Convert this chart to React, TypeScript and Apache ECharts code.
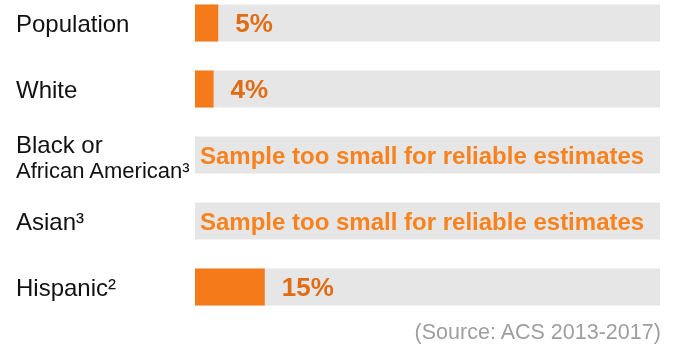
import React, { useEffect, useRef } from "react";
import * as echarts from "echarts";

const categories = ["Population", "White", "Black or\nAfrican American³", "Asian³", "Hispanic²"];
const values: (number | null)[] = [5, 4, null, null, 15];
const suppressedText = "Sample too small for reliable estimates";
const sourceText = "(Source: ACS 2013-2017)";
const axisMax = 100;

export default function App() {
  const ref = useRef<HTMLDivElement>(null);
  useEffect(() => {
    if (!ref.current) return;
    const chart = echarts.init(ref.current, undefined, { renderer: "svg" });
    const bg = categories.map(() => axisMax);
    chart.setOption({
      animation: false,
      grid: { left: 195, right: 13, top: -10, height: 330, outerBoundsMode: "none", containLabel: false },
      xAxis: { type: "value", min: 0, max: axisMax, show: false },
      yAxis: {
        type: "category",
        data: categories,
        inverse: true,
        axisLine: { show: false },
        axisTick: { show: false },
        axisLabel: {
          align: "left",
          margin: 179,
          fontFamily: "Liberation Sans, Arial, sans-serif",
          fontSize: 24,
          color: "#111",
          formatter: (v: string) => {
            if (v.indexOf("\n") >= 0) {
              const [a, b] = v.split("\n");
              return "{a|" + a + "}\n{b|" + b + "}";
            }
            return v;
          },
          rich: {
            a: { fontSize: 24, lineHeight: 30, color: "#111", fontFamily: "Liberation Sans, Arial, sans-serif", padding: [8, 0, 0, 0] },
            b: { fontSize: 22, lineHeight: 30, color: "#111", fontFamily: "Liberation Sans, Arial, sans-serif" },
          },
        },
      },
      series: [
        {
          type: "bar",
          data: bg,
          barWidth: 37,
          barGap: "-100%",
          clip: false,
          itemStyle: { color: "#E6E6E6" },
          silent: true,
          label: {
            show: true,
            position: "insideLeft",
            distance: 5,
            fontFamily: "Liberation Sans, Arial, sans-serif",
            fontWeight: "bold",
            fontSize: 24,
            color: "#F7821E",
            formatter: (p: any) => (values[p.dataIndex] == null ? suppressedText : ""),
          },
          z: 1,
        },
        {
          type: "bar",
          data: values,
          barWidth: 37,
          clip: false,
          itemStyle: { color: "#F47A1A" },
          label: {
            show: true,
            position: "right",
            distance: 17,
            fontFamily: "Liberation Sans, Arial, sans-serif",
            fontWeight: "bold",
            fontSize: 26,
            color: "#E06D14",
            formatter: (p: any) => (p.value == null ? "" : p.value + "%"),
          },
          z: 2,
        },
      ],
      graphic: [
        {
          type: "text",
          right: 11,
          top: 321,
          style: {
            text: sourceText,
            fontFamily: "Liberation Sans, Arial, sans-serif",
            fontSize: 21.5,
            fill: "#9E9E9E",
          },
        },
      ],
    });
    return () => chart.dispose();
  }, []);
  return <div ref={ref} style={{ position: "fixed", left: 0, top: 0, width: 673, height: 345 }} />;
}
